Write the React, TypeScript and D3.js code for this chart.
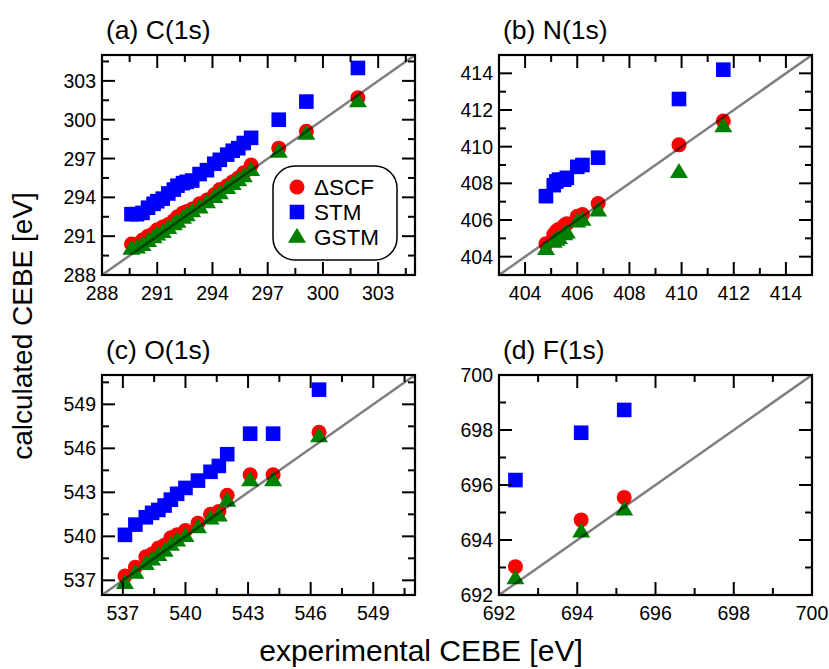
import React from "react";
import * as d3 from "d3";

// ---------- data ----------
// (a) C(1s)
const expC = [289.6, 289.9, 290.2, 290.5, 290.8, 291.0, 291.3, 291.6, 291.9, 292.1, 292.4, 292.6, 292.9, 293.3, 293.7, 294.1, 294.4, 294.8, 295.1, 295.4, 295.7, 296.1, 297.6, 299.1, 301.9];
const dscfC = [290.4, 290.4, 290.7, 291.0, 291.2, 291.5, 291.7, 291.9, 292.2, 292.5, 292.8, 292.9, 293.1, 293.5, 293.8, 294.2, 294.6, 294.9, 295.2, 295.5, 295.9, 296.5, 297.8, 299.1, 301.7];
const stmC = [292.7, 292.7, 292.8, 293.2, 293.5, 293.7, 293.9, 294.3, 294.6, 294.9, 295.1, 295.2, 295.3, 295.8, 296.1, 296.6, 296.9, 297.3, 297.6, 297.8, 298.2, 298.6, 300.0, 301.4, 304.0];
const gstmC = [290.0, 290.1, 290.3, 290.6, 290.9, 291.1, 291.3, 291.6, 291.9, 292.1, 292.4, 292.6, 292.9, 293.2, 293.6, 294.0, 294.3, 294.7, 295.0, 295.3, 295.6, 296.1, 297.5, 298.9, 301.4];

// (b) N(1s)
const expN = [404.8, 405.1, 405.2, 405.3, 405.5, 405.6, 406.0, 406.2, 406.8, 409.9, 411.6];
const dscfN = [404.7, 405.2, 405.4, 405.5, 405.7, 405.8, 406.2, 406.3, 406.9, 410.1, 411.4];
const stmN = [407.3, 407.9, 408.1, 408.2, 408.2, 408.3, 408.9, 409.0, 409.4, 412.6, 414.2];
const gstmN = [404.4, 404.8, 404.9, 405.0, 405.2, 405.3, 405.9, 406.0, 406.5, 408.6, 411.1];

// (c) O(1s)
const expO = [537.1, 537.6, 538.1, 538.4, 538.7, 539.0, 539.3, 539.6, 540.0, 540.6, 541.2, 541.6, 542.0, 543.1, 544.2, 546.4];
const dscfO = [537.3, 537.9, 538.6, 538.8, 539.2, 539.4, 539.9, 540.1, 540.4, 540.9, 541.5, 541.7, 542.8, 544.2, 544.2, 547.1];
const stmO = [540.1, 540.8, 541.3, 541.6, 541.8, 542.1, 542.5, 542.9, 543.3, 543.8, 544.4, 544.8, 545.6, 547.0, 547.0, 550.0];
const gstmO = [536.8, 537.5, 538.1, 538.4, 538.7, 539.0, 539.4, 539.7, 540.0, 540.6, 541.2, 541.4, 542.4, 543.8, 543.8, 546.8];

// (d) F(1s)
const expF = [692.42, 694.1, 695.2];
const dscfF = [693.03, 694.73, 695.55];
const stmF = [696.18, 697.9, 698.73];
const gstmF = [692.6, 694.3, 695.1];

const seriesNames = ["ΔSCF", "STM", "GSTM"];
const panelTitles = ["(a) C(1s)", "(b) N(1s)", "(c) O(1s)", "(d) F(1s)"];
const xTitle = "experimental CEBE [eV]";
const yTitle = "calculated CEBE [eV]";

const COLORS = ["#ff0000", "#0000ff", "#008000"];
const FONT = "'Liberation Sans', Arial, Helvetica, sans-serif";

type Panel = {
  title: string;
  domain: [number, number];
  first: number;
  major: number;
  x0: number;
  y0: number;
  exp: number[];
  dscf: number[];
  stm: number[];
  gstm: number[];
  legend?: boolean;
};

const W = 313;
const H = 220;

const panels: Panel[] = [
  { title: panelTitles[0], domain: [288, 305], first: 288, major: 3, x0: 102, y0: 55, exp: expC, dscf: dscfC, stm: stmC, gstm: gstmC, legend: true },
  { title: panelTitles[1], domain: [403, 415], first: 404, major: 2, x0: 499, y0: 55, exp: expN, dscf: dscfN, stm: stmN, gstm: gstmN },
  { title: panelTitles[2], domain: [536, 551], first: 537, major: 3, x0: 102, y0: 375, exp: expO, dscf: dscfO, stm: stmO, gstm: gstmO },
  { title: panelTitles[3], domain: [692, 700], first: 692, major: 2, x0: 499, y0: 375, exp: expF, dscf: dscfF, stm: stmF, gstm: gstmF },
];

const triPath = (cx: number, cy: number) => {
  const w = 18, h = 15;
  return `M${cx},${cy - h * 0.62}L${cx + w / 2},${cy + h * 0.38}L${cx - w / 2},${cy + h * 0.38}Z`;
};

function Marker({ kind, cx, cy }: { kind: number; cx: number; cy: number }) {
  if (kind === 0) return <circle cx={cx} cy={cy} r={7.5} fill={COLORS[0]} />;
  if (kind === 1) return <rect x={cx - 7.3} y={cy - 7.3} width={14.6} height={14.6} fill={COLORS[1]} />;
  return <path d={triPath(cx, cy)} fill={COLORS[2]} />;
}

function PanelView({ p }: { p: Panel }) {
  const x = d3.scaleLinear().domain(p.domain).range([p.x0, p.x0 + W]);
  const y = d3.scaleLinear().domain(p.domain).range([p.y0 + H, p.y0]);
  const minorStep = p.major / 2;
  const ticks: { v: number; major: boolean }[] = [];
  let startMinor = p.first;
  while (startMinor - minorStep >= p.domain[0] - 1e-9) startMinor -= minorStep;
  for (let v = startMinor; v <= p.domain[1] + 1e-9; v += minorStep) {
    const k = Math.round((v - p.first) / minorStep);
    ticks.push({ v, major: k % 2 === 0 });
  }
  const majorLen = 13;
  const minorLen = 7;
  const sets = [p.dscf, p.stm, p.gstm];
  return (
    <g>
      <text x={p.x0 + 4} y={p.y0 - 16} fontFamily={FONT} fontSize={26.5}>{p.title}</text>
      {sets.map((vals, k) => (
        <g key={k}>
          {vals.map((v, i) => (
            <Marker key={i} kind={k} cx={x(p.exp[i])} cy={y(v)} />
          ))}
        </g>
      ))}
      <line x1={x(p.domain[0])} y1={y(p.domain[0])} x2={x(p.domain[1])} y2={y(p.domain[1])}
        stroke="#000" strokeOpacity={0.5} strokeWidth={2.5} />
      {ticks.map((t, i) => {
        const L = t.major ? majorLen : minorLen;
        const xv = x(t.v);
        const yv = y(t.v);
        return (
          <g key={i} stroke="#000" strokeWidth={2}>
            <line x1={xv} x2={xv} y1={p.y0 + H} y2={p.y0 + H - L} />
            <line x1={xv} x2={xv} y1={p.y0} y2={p.y0 + L} />
            <line x1={p.x0} x2={p.x0 + L} y1={yv} y2={yv} />
            <line x1={p.x0 + W} x2={p.x0 + W - L} y1={yv} y2={yv} />
          </g>
        );
      })}
      {ticks.filter((t) => t.major).map((t, i) => (
        <g key={"l" + i} fontFamily={FONT} fontSize={19.5} fill="#000">
          <text x={x(t.v)} y={p.y0 + H + 25} textAnchor="middle">{d3.format("d")(t.v)}</text>
          <text x={p.x0 - 6} y={y(t.v) + 7} textAnchor="end">{d3.format("d")(t.v)}</text>
        </g>
      ))}
      <rect x={p.x0} y={p.y0} width={W} height={H} fill="none" stroke="#000" strokeWidth={2.2} />
      {p.legend && (
        <g>
          <rect x={273} y={166} width={124} height={94} rx={22} ry={22} fill="#fff" stroke="#000" strokeWidth={1.5} />
          {seriesNames.map((name, k) => (
            <g key={name}>
              <Marker kind={k} cx={297} cy={187 + k * 25} />
              <text x={314} y={195 + k * 25} fontFamily={FONT} fontSize={22.5}>{name}</text>
            </g>
          ))}
        </g>
      )}
    </g>
  );
}

export default function App() {
  return (
    <svg width={829} height={669} style={{ position: "absolute", left: 0, top: 0, background: "#fff" }}>
      <rect width={829} height={669} fill="#fff" />
      {panels.map((p, i) => (
        <PanelView key={i} p={p} />
      ))}
      <text transform="translate(32,326) rotate(-90)" textAnchor="middle" fontFamily={FONT} fontSize={28}>{yTitle}</text>
      <text x={421} y={661} textAnchor="middle" fontFamily={FONT} fontSize={30}>{xTitle}</text>
    </svg>
  );
}
